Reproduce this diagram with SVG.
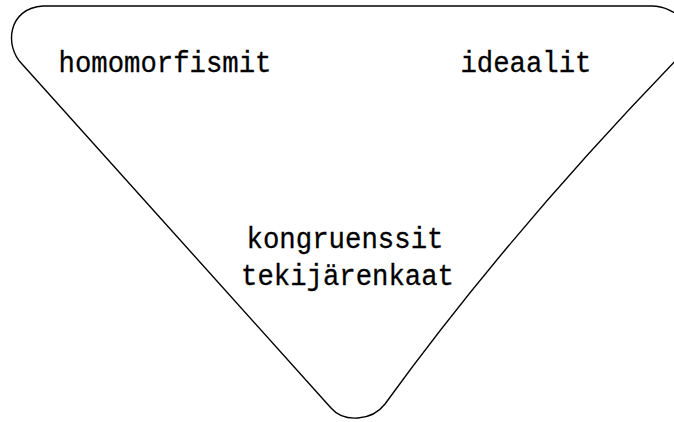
<svg xmlns="http://www.w3.org/2000/svg" width="674" height="422" viewBox="0 0 674 422">
<style>
.lbl{font-family:"Liberation Mono","Courier New",monospace;font-size:30px;fill:#000;stroke:#000;stroke-width:0.3;text-anchor:middle}
.edge{fill:none;stroke:#000;stroke-width:1.4;stroke-linejoin:round}
</style>
<rect width="674" height="422" fill="#fff"/>
<g id="connectors">
<path class="edge" d="M43,6 L652,6 C674,6 702,28 684,52 Q511,230 385,404 C372,421 344,423 331,408 L22,64 C4,46 8,8 43,6 Z"/>
</g>
<g id="homomorfismit"><text class="lbl" x="165" y="72" textLength="213" lengthAdjust="spacingAndGlyphs">homomorfismit</text></g>
<g id="ideaalit"><text class="lbl" x="526" y="72" textLength="131" lengthAdjust="spacingAndGlyphs">ideaalit</text></g>
<g id="kongruenssit"><text class="lbl" x="345" y="248" textLength="197" lengthAdjust="spacingAndGlyphs">kongruenssit</text>
<text class="lbl" x="347.5" y="285" textLength="213" lengthAdjust="spacingAndGlyphs">tekijärenkaat</text></g>
</svg>
